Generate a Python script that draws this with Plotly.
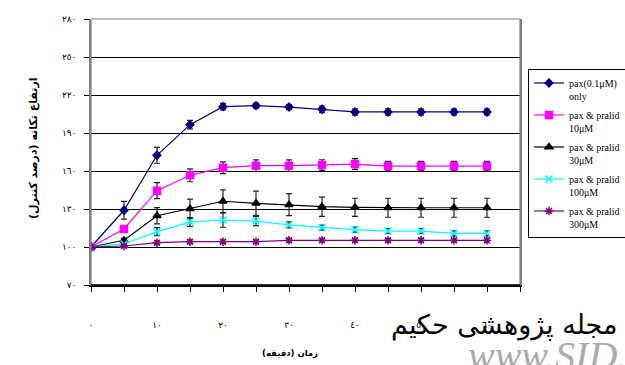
import plotly.graph_objects as go

# ---- data ----
times = [0, 5, 10, 15, 20, 25, 30, 35, 40, 45, 50, 55, 60]
pax_only = [100, 129, 172.4, 196.6, 210.8, 211.6, 210.5, 208.7, 206.6, 206.6, 206.6, 206.6, 206.6]
pax_only_err = [0, 7, 6.3, 3.3, 2.6, 2, 2, 2.6, 2.5, 2.5, 2.5, 2.5, 2.5]
pralid_10 = [100, 114.2, 144.5, 156.6, 162.6, 164.2, 164.2, 164.7, 165.5, 163.9, 163.9, 163.9, 163.9]
pralid_10_err = [0, 1, 6.3, 5.1, 4.6, 4.6, 4.6, 4.2, 4.2, 3.7, 3.7, 3.7, 3.7]
pralid_30 = [100, 105.3, 124.7, 130.2, 136.1, 134.5, 133.4, 131.8, 131.3, 131, 131, 131, 131]
pralid_30_err = [0, 1.5, 6.4, 7.6, 9, 9.6, 8.7, 7.6, 7.2, 7.5, 7.5, 7.5, 7.5]
pralid_100 = [100, 102.4, 112.1, 119.7, 121.3, 120.5, 117.4, 115.3, 113.7, 112.6, 112.6, 110.8, 110.8]
pralid_100_err = [0, 1, 3.2, 3.5, 5.7, 3.7, 2.4, 2, 2, 2, 2, 2, 2]
pralid_300 = [100, 100.8, 103.4, 104.2, 104.2, 104.2, 105.3, 105.3, 105.3, 105.3, 105.3, 105.3, 105.3]
pralid_300_err = [0, 1, 1.5, 1.5, 1.5, 1.5, 1.5, 1.5, 1.5, 1.5, 1.5, 1.5, 1.5]

series_names = ["pax(0.1μM)<br>only", "pax & pralid<br>10μM", "pax & pralid<br>30μM",
                "pax & pralid<br>100μM", "pax & pralid<br>300μM"]

x_tickvals = [0, 5, 10, 15, 20, 25, 30, 35, 40, 45, 50, 55, 60, 65]
x_ticktext = ["٠", "", "١٠", "", "٢٠", "", "٣٠", "", "٤٠", "", "٥٠", "", "٦٠", ""]
y_tickvals = [70, 100, 130, 160, 190, 220, 250, 280]
y_ticktext = ["٧٠", "١٠٠", "١٣٠", "١٦٠", "١٩٠", "٢٢٠", "٢٥٠", "٢٨٠"]

x_title = "زمان (دقیقه)"
y_title = "ارتفاع تکانه (درصد کنترل)"
watermark_fa = "مجله پژوهشی حکیم"
watermark_en = "www.SID.ir"

styles = [
    dict(color="#000080", symbol="diamond", size=6),
    dict(color="#FF00FF", symbol="square", size=7),
    dict(color="#000000", symbol="triangle-up", size=7),
    dict(color="#00FFFF", symbol="x-thin-open", size=7),
    dict(color="#800080", symbol="asterisk-open", size=7),
]
values = [pax_only, pralid_10, pralid_30, pralid_100, pralid_300]
errors = [pax_only_err, pralid_10_err, pralid_30_err, pralid_100_err, pralid_300_err]

fig = go.Figure()
for i, (name, vals, errs, st) in enumerate(zip(series_names, values, errors, styles)):
    fig.add_trace(go.Scatter(
        x=times, y=vals, name=name, mode="lines+markers",
        legendgroup=f"g{i}",
        line=dict(color=st["color"], width=1.2),
        marker=dict(symbol=st["symbol"], size=st["size"], color=st["color"],
                    line=dict(color=st["color"], width=1.5)),
        error_y=dict(type="data", array=errs, visible=True, color="#222222",
                     thickness=1.2, width=3),
    ))

PL, PR, PT, PB = 91, 520, 19, 285
PW, PH = PR - PL, PB - PT


def px_x(x):
    return (x - PL) / PW


def px_y(y):
    return (PB - y) / PH


fig.update_layout(
    width=625, height=365,
    margin=dict(l=PL, r=625 - PR, t=PT, b=365 - PB, autoexpand=False),
    paper_bgcolor="white", plot_bgcolor="white",
    font=dict(family="DejaVu Sans", color="black"),
    showlegend=True,
    legend=dict(
        xref="container", yref="container",
        x=528 / 625, xanchor="left", y=1 - 69 / 365, yanchor="top",
        bordercolor="black", borderwidth=1, bgcolor="white",
        font=dict(family="Liberation Serif", size=10, color="black"),
        itemwidth=30, tracegroupgap=3, valign="top",
    ),
    xaxis=dict(
        range=[0, 65], tickvals=x_tickvals, ticktext=x_ticktext,
        showgrid=False, zeroline=False,
        showline=True, linecolor="black", linewidth=1.5,
        ticks="outside", ticklen=5, tickcolor="black", tickwidth=1,
        ticklabelstandoff=25,
        tickfont=dict(family="DejaVu Sans", size=9, color="black"),
    ),
    yaxis=dict(
        range=[70, 280], tickvals=y_tickvals, ticktext=y_ticktext,
        showgrid=True, gridcolor="black", gridwidth=1, zeroline=False,
        showline=True, linecolor="#808080", linewidth=1.5, mirror=True,
        ticks="outside", ticklen=5, tickcolor="black", tickwidth=1,
        ticklabelstandoff=6,
        tickfont=dict(family="DejaVu Sans", size=9, color="black"),
    ),
)

# plot-area border (gray) and black bottom axis
fig.add_shape(type="rect", xref="paper", yref="paper", x0=0, y0=0, x1=1, y1=1,
              line=dict(color="#808080", width=1.2), layer="above")
fig.add_shape(type="line", xref="paper", yref="paper", x0=0, y0=0, x1=1, y1=0,
              line=dict(color="black", width=1.5), layer="above")

# axis titles
fig.add_annotation(text=f"<b>{y_title}</b>", xref="paper", yref="paper",
                   x=px_x(33), y=px_y(148), xanchor="center", yanchor="middle",
                   textangle=-90, showarrow=False,
                   font=dict(family="DejaVu Sans", size=11, color="black"))
fig.add_annotation(text=f"<b>{x_title}</b>", xref="paper", yref="paper",
                   x=px_x(290), y=px_y(353), xanchor="center", yanchor="middle",
                   showarrow=False, font=dict(family="DejaVu Sans", size=8.5, color="black"))

# watermark texts
fig.add_annotation(text=watermark_fa, xref="paper", yref="paper",
                   x=px_x(619), y=px_y(325), xanchor="right", yanchor="middle",
                   showarrow=False, font=dict(family="DejaVu Sans", size=27, color="black"))
fig.add_annotation(text=f"<i>{watermark_en}</i>", xref="paper", yref="paper",
                   x=px_x(466), y=px_y(331), xanchor="left", yanchor="top",
                   showarrow=False, font=dict(family="Liberation Serif", size=40, color="#aaaaaa"))

fig.write_html("out.html")
